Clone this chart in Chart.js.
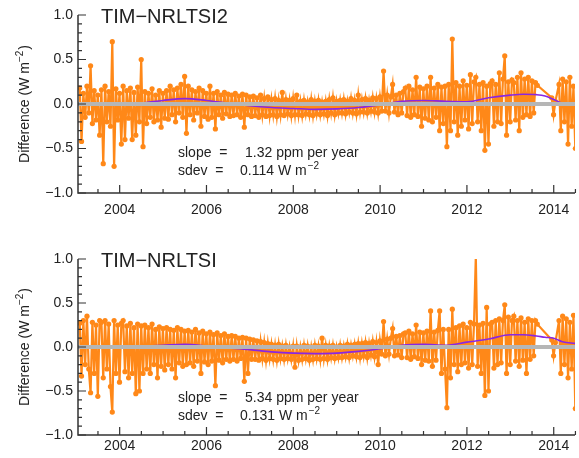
<!DOCTYPE html>
<html>
<head>
<meta charset="utf-8">
<script src="https://cdn.jsdelivr.net/npm/chart.js@4.4.1/dist/chart.umd.min.js"></script>
<style>
  body { margin: 0; background: #fff; }
  #wrap { position: relative; width: 579px; height: 458px; overflow: hidden; }
  canvas { position: absolute; left: 0; }
  #cTop { top: 0; }
  #cBottom { top: 244px; }
</style>
</head>
<body>
<div id="wrap">
  <canvas id="cTop" width="579" height="229"></canvas>
  <canvas id="cBottom" width="579" height="214"></canvas>
</div>
<script>
// daily differences, resampled: one value every 1/24 yr starting 2003.08
const sampleStart = 2003.08;
const sampleStep = 1 / 24;

// TIM minus NRLTSI2 (W m-2), six months per row
const diffNrl2 = [
  0.18, -0.42, 0.12, -0.15, 0.2, -0.1, 0.43, -0.22, 0.15, -0.18, 0.1, -0.35,
  0.16, -0.67, 0.2, -0.2, 0.14, -0.25, 0.7, -0.7, 0.17, -0.18, 0.12, -0.45,
  0.2, -0.4, 0.15, -0.16, 0.18, -0.4, 0.13, -0.35, 0.19, -0.2, 0.5, -0.48,
  0.14, -0.22, 0.12, -0.15, 0.17, -0.2, 0.1, -0.18, 0.15, -0.26, 0.12, -0.16,
  0.15, -0.17, 0.2, -0.12, 0.16, -0.2, 0.18, -0.1, 0.22, -0.15, 0.31, -0.33,
  0.2, -0.12, 0.16, -0.18, 0.14, -0.1, 0.18, -0.25, 0.15, -0.14, 0.12, -0.17,
  0.2, -0.15, 0.12, -0.28, 0.14, -0.12, 0.1, -0.16, 0.13, -0.11, 0.11, -0.14,
  0.1, -0.13, 0.12, -0.12, 0.09, -0.15, 0.11, -0.26, 0.1, -0.12, 0.08, -0.14,
  0.09, -0.13, 0.07, -0.15, 0.1, -0.12, 0.06, -0.14, 0.08, -0.13, 0.05, -0.12,
  0.06, -0.14, 0.04, -0.12, 0.13, -0.13, 0.05, -0.11, 0.04, -0.13, 0.06, -0.12,
  0.1, -0.12, 0.03, -0.13, 0.04, -0.11, 0.02, -0.12, 0.05, -0.13, 0.03, -0.11,
  0.04, -0.12, 0.02, -0.11, 0.03, -0.13, 0.05, -0.1, 0.07, -0.12, 0.03, -0.1,
  0.04, -0.1, 0.05, -0.11, 0.03, -0.09, 0.06, -0.1, 0.04, -0.11, 0.1, -0.09,
  0.05, -0.09, 0.06, -0.1, 0.04, -0.08, 0.07, -0.09, 0.06, -0.1, 0.08, -0.08,
  0.37, -0.08, 0.1, -0.1, 0.08, 0.22, -0.09, 0.1, -0.12, 0.12, -0.1, 0.14,
  0.18, -0.13, 0.2, -0.15, 0.16, -0.12, 0.3, -0.14, 0.19, -0.25, 0.17, -0.16,
  0.2, -0.18, 0.3, -0.2, 0.18, -0.15, 0.22, -0.3, 0.19, -0.22, 0.2, -0.48,
  0.22, -0.3, 0.73, -0.2, 0.24, -0.35, 0.2, -0.25, 0.26, -0.18, 0.21, -0.28,
  0.33, -0.22, 0.25, 0.3, -0.2, 0.22, -0.3, 0.24, -0.52, 0.2, -0.45, 0.23,
  0.26, -0.25, 0.22, -0.2, 0.35, -0.22, 0.28, 0.54, -0.35, 0.25, -0.2, 0.27,
  0.24, -0.18, 0.3, -0.3, 0.35, -0.15, 0.28, -0.12, 0.3, -0.14, 0.26, -0.1,
  0.24, 0.21, null, null, null, null, null, null, null, 0.07, -0.12, 0.03,
  null, 0.22, -0.3, 0.28, -0.2, 0.25, -0.45, 0.3, -0.25, 0.2, -0.5, 0.18
];

// TIM minus NRLTSI (W m-2)
const diffNrl = [
  0.27, -0.33, 0.3, -0.2, 0.35, -0.25, -0.52, 0.28, -0.3, 0.25, -0.56, 0.3,
  0.28, -0.35, 0.3, -0.25, 0.26, -0.45, -0.74, 0.3, -0.3, 0.25, -0.4, 0.27,
  0.3, -0.28, 0.24, -0.35, 0.27, -0.3, 0.22, -0.53, 0.26, -0.5, 0.24, -0.3,
  0.25, -0.25, 0.22, -0.3, 0.26, -0.2, 0.2, -0.35, 0.23, -0.22, 0.21, -0.26,
  0.22, -0.2, 0.2, -0.25, 0.19, -0.35, 0.22, -0.18, 0.2, -0.22, 0.18, -0.2,
  0.19, -0.18, 0.17, -0.22, 0.2, -0.16, 0.16, -0.3, 0.18, -0.17, 0.15, -0.2,
  0.17, -0.16, 0.14, -0.44, 0.16, -0.15, 0.13, -0.18, 0.15, -0.14, 0.12, -0.16,
  0.13, -0.14, 0.12, -0.16, 0.1, -0.13, 0.11, -0.39, 0.1, -0.3, 0.09, -0.14,
  0.08, -0.14, 0.07, -0.15, 0.06, -0.13, 0.05, -0.15, 0.04, -0.13, 0.03, -0.14,
  0.02, -0.15, 0.03, -0.13, 0.01, -0.14, 0.02, -0.13, 0.0, -0.14, 0.01, -0.23,
  0.01, -0.15, 0.0, -0.14, 0.02, -0.13, 0.01, -0.15, 0.0, -0.14, 0.02, -0.13,
  0.01, -0.14, 0.1, -0.13, 0.02, -0.14, 0.01, -0.12, 0.02, -0.13, 0.0, -0.12,
  0.02, -0.12, 0.01, -0.11, 0.03, -0.12, 0.02, -0.1, 0.03, -0.11, 0.04, -0.12,
  0.04, -0.1, 0.05, -0.12, 0.04, -0.09, 0.06, -0.11, 0.05, -0.2, 0.07, -0.08,
  0.29, -0.1, 0.09, -0.08, 0.1, 0.21, -0.1, 0.12, -0.09, 0.13, -0.12, 0.15,
  0.16, -0.12, 0.18, -0.14, 0.15, -0.11, 0.25, -0.13, 0.17, -0.2, 0.16, -0.15,
  0.18, -0.16, 0.41, -0.22, 0.17, -0.15, 0.19, 0.41, -0.3, 0.2, -0.25, -0.69,
  0.2, -0.35, 0.43, -0.2, 0.22, -0.28, 0.24, -0.2, 0.26, -0.18, 0.22, -0.24,
  0.28, -0.2, 0.26, 1.03, -0.22, 0.25, -0.3, 0.27, -0.55, 0.45, -0.5, 0.26,
  0.28, -0.24, 0.3, -0.2, 0.32, -0.18, 0.3, 0.48, -0.3, 0.34, -0.2, 0.3,
  0.35, -0.16, 0.3, -0.22, 0.33, -0.15, 0.28, -0.3, 0.32, -0.14, 0.3, -0.1,
  0.3, 0.26, null, null, null, null, null, null, null, 0.08, -0.1, 0.05,
  null, 0.3, -0.3, 0.35, -0.2, 0.32, -0.35, 0.28, -0.25, 0.36, -0.7, 0.3
];

// smoothed differences
const smoothYears = [2003.1, 2003.5, 2004.0, 2004.5, 2005.0, 2005.5, 2006.0, 2006.5, 2007.0,
  2007.5, 2008.0, 2008.5, 2009.0, 2009.5, 2010.0, 2010.5, 2011.0, 2011.5, 2012.0, 2012.5,
  2013.0, 2013.3, 2013.6, 2013.8, 2014.0, 2014.2, 2014.5];
const smoothNrl2 = [0, 0, 0, 0.01, 0.04, 0.06, 0.04, 0.01, -0.02,
  -0.04, -0.05, -0.06, -0.055, -0.04, -0.01, 0.03, 0.04, 0.03, 0.025, 0.07,
  0.1, 0.11, 0.105, 0.09, 0.05, 0.01, 0.0];
const smoothNrl = [0, 0, 0, 0.01, 0.02, 0.03, 0.01, -0.01, -0.03,
  -0.055, -0.07, -0.075, -0.07, -0.05, -0.02, 0.02, 0.03, 0.02, 0.055, 0.09,
  0.14, 0.14, 0.125, 0.11, 0.1, 0.06, 0.04];

// axes
const xMin = 2003.04, xMax = 2014.49;
const xLabelYears = [2004, 2006, 2008, 2010, 2012, 2014];
const xMinorYears = [2003.5, 2004.5, 2005, 2005.5, 2006.5, 2007, 2007.5, 2008.5, 2009, 2009.5,
  2010.5, 2011, 2011.5, 2012.5, 2013, 2013.5, 2014.5];
const yLabelValues = [-1, -0.5, 0, 0.5, 1];
const yMinorValues = [-0.9, -0.8, -0.7, -0.6, -0.4, -0.3, -0.2, -0.1,
  0.1, 0.2, 0.3, 0.4, 0.6, 0.7, 0.8, 0.9];

const ORANGE = 'rgb(255,136,24)';
const PURPLE = 'rgb(138,38,226)';
const ZERO_GREY = 'rgb(182,182,182)';
const INK = '#222';
const FONT = "'Liberation Sans', Arial, sans-serif";

Chart.defaults.font.family = FONT;
Chart.defaults.color = INK;

// IDL-style frame: left and bottom axis with inward ticks, plus panel texts
const panelFrame = {
  id: 'panelFrame',
  afterDraw(chart, args, opts) {
    const { ctx, chartArea: a, scales: { x, y } } = chart;
    ctx.save();
    ctx.strokeStyle = '#333';
    ctx.lineWidth = 1.5;
    ctx.beginPath();
    ctx.moveTo(a.left, a.top);
    ctx.lineTo(a.left, a.bottom);
    ctx.lineTo(a.right, a.bottom);
    ctx.stroke();

    ctx.lineWidth = 1.2;
    ctx.beginPath();
    xLabelYears.forEach(v => {
      const px = x.getPixelForValue(v);
      ctx.moveTo(px, a.bottom); ctx.lineTo(px, a.bottom - 8);
    });
    xMinorYears.forEach(v => {
      const px = x.getPixelForValue(v);
      ctx.moveTo(px, a.bottom); ctx.lineTo(px, a.bottom - 4);
    });
    yLabelValues.forEach(v => {
      const py = y.getPixelForValue(v);
      ctx.moveTo(a.left, py); ctx.lineTo(a.left + 8, py);
    });
    yMinorValues.forEach(v => {
      const py = y.getPixelForValue(v);
      ctx.moveTo(a.left, py); ctx.lineTo(a.left + 4, py);
    });
    ctx.stroke();

    ctx.fillStyle = INK;
    ctx.textBaseline = 'alphabetic';
    ctx.textAlign = 'left';

    // panel title
    ctx.font = '20px ' + FONT;
    ctx.fillText(opts.title, a.left + 23, a.top + 7.5);

    // fit statistics
    ctx.font = '14px ' + FONT;
    const b1 = a.top + opts.statsTop;
    const b2 = b1 + 17.5;
    ctx.fillText('slope  =', a.left + 100, b1);
    ctx.fillText(opts.slope + ' ppm per year', a.left + 167, b1);
    ctx.fillText('sdev  =', a.left + 100, b2);
    const sdevText = opts.sdev + ' W m';
    ctx.fillText(sdevText, a.left + 162, b2);
    const sw = ctx.measureText(sdevText).width;
    ctx.font = '10px ' + FONT;
    ctx.fillText('−2', a.left + 163 + sw, b2 - 6);

    // y axis title
    ctx.translate(29, (a.top + a.bottom) / 2);
    ctx.rotate(-Math.PI / 2);
    ctx.font = '14px ' + FONT;
    const t1 = 'Difference (W m';
    const w1 = ctx.measureText(t1).width;
    ctx.font = '10px ' + FONT;
    const w2 = ctx.measureText('−2').width;
    ctx.font = '14px ' + FONT;
    const w3 = ctx.measureText(')').width;
    let sx = -(w1 + w2 + w3 + 1) / 2;
    ctx.fillText(t1, sx, 0);
    sx += w1;
    ctx.font = '10px ' + FONT;
    ctx.fillText('−2', sx, -6);
    sx += w2 + 1;
    ctx.font = '14px ' + FONT;
    ctx.fillText(')', sx, 0);
    ctx.restore();
  }
};

function makePanel(canvasId, values, smooth, info) {
  const points = values.map((v, i) => ({ x: sampleStart + i * sampleStep, y: v }));
  const smoothPts = smoothYears.map((yr, i) => ({ x: yr, y: smooth[i] }));

  return new Chart(document.getElementById(canvasId), {
    type: 'line',
    data: {
      datasets: [
        {
          data: [{ x: xMin, y: 0 }, { x: xMax, y: 0 }],
          borderColor: ZERO_GREY,
          borderWidth: 4,
          pointRadius: 0,
          order: 0
        },
        {
          data: smoothPts,
          borderColor: PURPLE,
          borderWidth: 1.6,
          pointRadius: 0,
          cubicInterpolationMode: 'monotone',
          order: 1
        },
        {
          data: points,
          borderColor: ORANGE,
          borderWidth: 2.2,
          pointRadius: 2.6,
          pointBorderWidth: 0,
          pointBackgroundColor: ORANGE,
          spanGaps: true,
          order: 2
        }
      ]
    },
    options: {
      responsive: false,
      animation: false,
      devicePixelRatio: 1,
      layout: { padding: { top: 15, left: 0, right: 0, bottom: 0 } },
      plugins: {
        legend: { display: false },
        tooltip: { enabled: false },
        panelFrame: info
      },
      scales: {
        x: {
          type: 'linear',
          min: xMin,
          max: xMax,
          grid: { display: false, drawTicks: false },
          border: { display: false },
          afterBuildTicks: s => { s.ticks = xLabelYears.map(v => ({ value: v })); },
          afterFit: s => { s.height = info.xAxisHeight; },
          ticks: {
            autoSkip: false,
            maxRotation: 0,
            padding: info.xLabelPad,
            font: { size: 14 },
            color: INK,
            callback: v => String(v)
          }
        },
        y: {
          type: 'linear',
          min: -1,
          max: 1,
          grid: { display: false, drawTicks: false },
          border: { display: false },
          afterBuildTicks: s => { s.ticks = yLabelValues.map(v => ({ value: v })); },
          afterFit: s => { s.width = 78; },
          ticks: {
            padding: 5,
            font: { size: 14 },
            color: INK,
            callback: v => (v < 0 ? '−' : '') + Math.abs(v).toFixed(1)
          }
        }
      }
    },
    plugins: [panelFrame]
  });
}

makePanel('cTop', diffNrl2, smoothNrl2, {
  title: 'TIM−NRLTSI2', slope: '1.32', sdev: '0.114', statsTop: 142,
  xAxisHeight: 36, xLabelPad: 9
});
makePanel('cBottom', diffNrl, smoothNrl, {
  title: 'TIM−NRLTSI', slope: '5.34', sdev: '0.131', statsTop: 143,
  xAxisHeight: 23, xLabelPad: 3
});
</script>
</body>
</html>
